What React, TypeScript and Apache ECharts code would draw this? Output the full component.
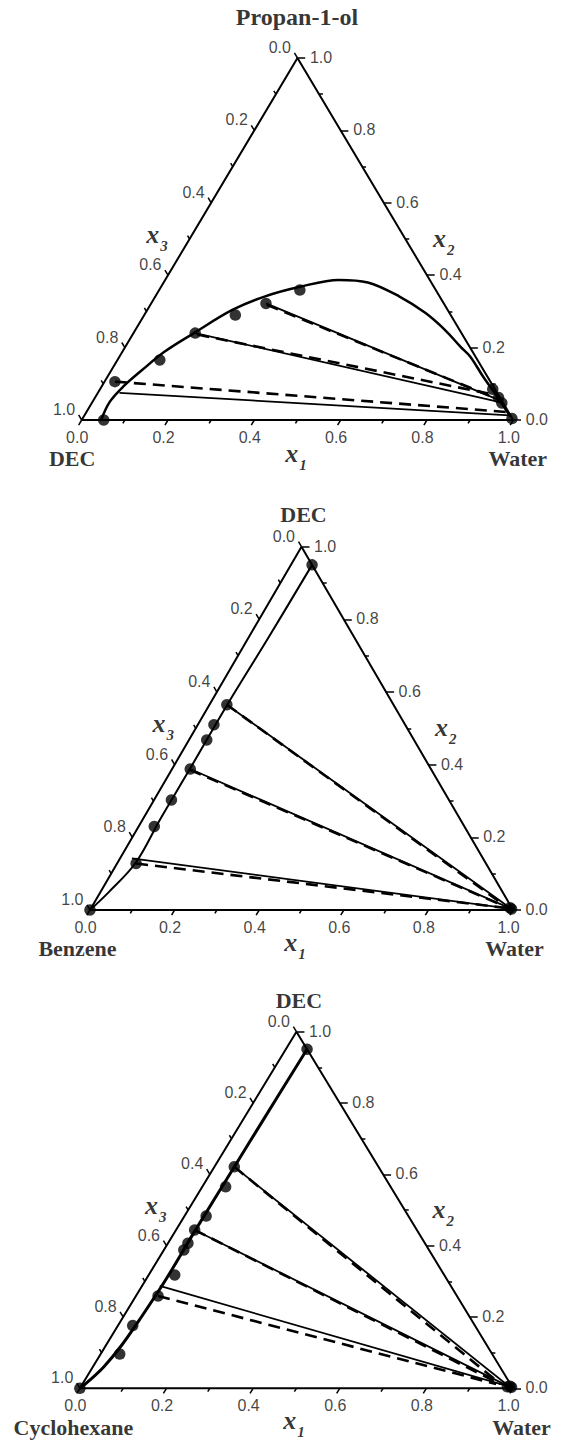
import React, { useEffect, useRef } from "react";
import * as echarts from "echarts";

type P2 = [number, number];

// ---------- shared ternary ticks ----------
const majorTicks = [0, 0.2, 0.4, 0.6, 0.8, 1.0];
const minorTicks = [0.1, 0.3, 0.5, 0.7, 0.9];
const tickLabels = ["0.0", "0.2", "0.4", "0.6", "0.8", "1.0"];

// all compositions are [x1 (Water), x2 (top component)], x3 = 1 - x1 - x2

// ---------- Panel 1: DEC + Water + Propan-1-ol ----------
const p1Names = { top: "Propan-1-ol", left: "DEC", right: "Water" };
const p1Binodal: P2[] = [
  [0.045, 0.0], [0.04, 0.05], [0.05, 0.092], [0.071, 0.138], [0.098, 0.189],
  [0.14, 0.24], [0.197, 0.304], [0.253, 0.341], [0.322, 0.368], [0.402, 0.387],
  [0.473, 0.38], [0.566, 0.341], [0.648, 0.296], [0.717, 0.249], [0.777, 0.202],
  [0.813, 0.175], [0.87, 0.12], [0.93, 0.065], [0.99, 0.008],
];
const p1Points: P2[] = [
  [0.051, 0.0], [0.024, 0.106], [0.098, 0.166], [0.143, 0.24], [0.211, 0.29],
  [0.266, 0.322], [0.326, 0.359], [0.91, 0.085], [0.935, 0.062], [0.95, 0.047],
  [0.995, 0.004],
];
const p1TieExp: P2[][] = [
  [[0.266, 0.322], [0.94, 0.055]],
  [[0.143, 0.24], [0.95, 0.048]],
  [[0.05, 0.075], [0.985, 0.013]],
];
const p1TieCalc: P2[][] = [
  [[0.27, 0.318], [0.935, 0.058]],
  [[0.15, 0.236], [0.93, 0.068]],
  [[0.024, 0.106], [0.975, 0.022]],
];

// ---------- Panel 2: Benzene + Water + DEC ----------
const p2Names = { top: "DEC", left: "Benzene", right: "Water" };
const p2Binodal: P2[] = [
  [0.05, 0.95], [0.047, 0.75], [0.042, 0.565], [0.042, 0.39], [0.041, 0.25],
  [0.043, 0.13], [0.02, 0.05], [0.0, 0.0],
];
const p2Points: P2[] = [
  [0.05, 0.95], [0.041, 0.565], [0.038, 0.51], [0.042, 0.468], [0.043, 0.388],
  [0.041, 0.303], [0.037, 0.23], [0.045, 0.128], [0.0, 0.0], [0.995, 0.003],
  [0.99, 0.006],
];
const p2TieExp: P2[][] = [
  [[0.041, 0.565], [0.995, 0.003]],
  [[0.043, 0.388], [0.995, 0.003]],
  [[0.028, 0.142], [0.995, 0.003]],
];
const p2TieCalc: P2[][] = [
  [[0.041, 0.565], [0.985, 0.006]],
  [[0.043, 0.386], [0.985, 0.006]],
  [[0.045, 0.128], [0.985, 0.005]],
];

// ---------- Panel 3: Cyclohexane + Water + DEC ----------
const p3Names = { top: "DEC", left: "Cyclohexane", right: "Water" };
const p3Binodal: P2[] = [
  [0.049, 0.951], [0.047, 0.75], [0.046, 0.62], [0.045, 0.44], [0.046, 0.3],
  [0.042, 0.2], [0.036, 0.12], [0.025, 0.06], [0.01, 0.02], [0.0, 0.0],
];
const p3Points: P2[] = [
  [0.049, 0.951], [0.046, 0.621], [0.054, 0.565], [0.05, 0.483], [0.043, 0.444],
  [0.046, 0.407], [0.046, 0.388], [0.06, 0.318], [0.051, 0.259], [0.034, 0.176],
  [0.044, 0.096], [0.0, 0.0], [0.995, 0.003], [0.985, 0.004], [0.99, 0.006],
];
const p3TieExp: P2[][] = [
  [[0.046, 0.621], [0.99, 0.004]],
  [[0.043, 0.444], [0.99, 0.004]],
  [[0.041, 0.287], [0.985, 0.006]],
];
const p3TieCalc: P2[][] = [
  [[0.046, 0.621], [0.965, 0.012]],
  [[0.043, 0.444], [0.962, 0.013]],
  [[0.051, 0.259], [0.955, 0.012]],
];

// ---------- layout (pixels) ----------
type Layout = {
  bx: number; by: number; W: number; ay: number;
  topSize: number; topOff: P2; leftOff: P2; rightOff: P2; x1Off: P2; binW: number;
};
const layouts: Layout[] = [
  { bx: 84, by: 420, W: 447, ay: 58, topSize: 24, topOff: [0, -41], leftOff: [-9, 39], rightOff: [5, 39], x1Off: [-1, 34], binW: 2.5 },
  { bx: 90, by: 910, W: 423, ay: 546.7, topSize: 22, topOff: [2.5, -32], leftOff: [-12, 39], rightOff: [2, 39], x1Off: [-6, 33], binW: 2 },
  { bx: 80, by: 1388.3, W: 434, ay: 1031.7, topSize: 22, topOff: [3, -31], leftOff: [-6, 40], rightOff: [9, 40], x1Off: [-2, 33], binW: 3 },
];

type PanelData = {
  names: { top: string; left: string; right: string };
  binodal: P2[]; points: P2[]; tieExp: P2[][]; tieCalc: P2[][];
};
const panels: PanelData[] = [
  { names: p1Names, binodal: p1Binodal, points: p1Points, tieExp: p1TieExp, tieCalc: p1TieCalc },
  { names: p2Names, binodal: p2Binodal, points: p2Points, tieExp: p2TieExp, tieCalc: p2TieCalc },
  { names: p3Names, binodal: p3Binodal, points: p3Points, tieExp: p3TieExp, tieCalc: p3TieCalc },
];

const SANS = "'Liberation Sans', Arial, Helvetica, sans-serif";
const SERIF = "'Liberation Serif', 'Times New Roman', Times, serif";

const T = (p: P2): P2 => [p[0] + p[1] / 2, p[1]];

function panelSeries(i: number, L: Layout, D: PanelData): any[] {
  const H = L.by - L.ay;
  const slant = Math.sqrt((L.W / 2) ** 2 + H * H);
  const ax = { xAxisIndex: i, yAxisIndex: i, silent: true };
  const tickSegs: P2[][] = [];
  const addTicks = (vals: number[], lb: number, lr: number, ll: number) => {
    vals.forEach((v) => {
      const db = lb / slant;
      tickSegs.push([T([v, 0]), T([v, -db])]);
      const dr = lr / L.W;
      tickSegs.push([T([1 - v, v]), T([1 - v + dr, v])]);
      const dl = ll / slant;
      tickSegs.push([T([0, 1 - v]), T([-dl, 1 - v + dl])]);
    });
  };
  addTicks(majorTicks, 6, 8, 6);
  addTicks(minorTicks, 4, 4, 4);

  const tickLabelStyle = { show: true, formatter: "{b}", fontSize: 16, lineHeight: 14, fontFamily: SANS, color: "#111" };
  const invisible = { symbol: "circle", symbolSize: 1, itemStyle: { color: "rgba(0,0,0,0)" } };
  const rich = {
    x: { fontFamily: SERIF, fontStyle: "italic", fontWeight: "bold", fontSize: 26, color: "#000", verticalAlign: "top", lineHeight: 26 },
    s: { fontFamily: SERIF, fontStyle: "italic", fontWeight: "bold", fontSize: 15, color: "#000", verticalAlign: "top", padding: [17, 0, 0, 1], lineHeight: 13 },
  };

  return [
    {
      type: "line", ...ax, name: `frame${i}`, clip: false, symbol: "none", z: 2,
      data: [T([0, 0]), T([1, 0]), T([0, 1]), T([0, 0])],
      lineStyle: { color: "#000", width: 2 },
    },
    {
      type: "lines", coordinateSystem: "cartesian2d", ...ax, z: 2,
      data: tickSegs.map((c) => ({ coords: c })),
      lineStyle: { color: "#000", width: 1.5, opacity: 1, curveness: 0 },
    },
    {
      type: "lines", coordinateSystem: "cartesian2d", ...ax, z: 3,
      data: D.tieExp.map((s) => ({ coords: s.map(T) })),
      lineStyle: { color: "#000", width: 1.8, opacity: 1, curveness: 0 },
    },
    {
      type: "lines", coordinateSystem: "cartesian2d", ...ax, z: 3,
      data: D.tieCalc.map((s) => ({ coords: s.map(T) })),
      lineStyle: { color: "#000", width: 2.6, opacity: 1, curveness: 0, type: [12, 7] },
    },
    {
      type: "line", ...ax, clip: false, symbol: "none", smooth: 0.35, z: 4,
      data: D.binodal.map(T),
      lineStyle: { color: "#000", width: L.binW },
    },
    {
      type: "scatter", ...ax, clip: false, z: 5, symbol: "circle", symbolSize: 11.5,
      data: D.points.map(T),
      itemStyle: { color: "#000" },
    },
    {
      type: "scatter", ...ax, clip: false, z: 6, ...invisible,
      data: majorTicks.map((v, k) => ({ name: tickLabels[k], value: T([v, 0]) })),
      label: { ...tickLabelStyle, position: [-4, 17.5], align: "center", verticalAlign: "middle" },
    },
    {
      type: "scatter", ...ax, clip: false, z: 6, ...invisible,
      data: majorTicks.map((v, k) => ({ name: tickLabels[k], value: T([1 - v, v]) })),
      label: { ...tickLabelStyle, position: [13, 0], align: "left", verticalAlign: "middle" },
    },
    {
      type: "scatter", ...ax, clip: false, z: 6, ...invisible,
      data: majorTicks.map((v, k) => ({ name: tickLabels[k], value: T([0, 1 - v]) })),
      label: { ...tickLabelStyle, position: [-6, -3], align: "right", verticalAlign: "bottom" },
    },
    {
      type: "scatter", ...ax, clip: false, z: 6, ...invisible,
      data: [
        { name: D.names.top, value: T([0, 1]), label: { position: L.topOff, fontSize: L.topSize, lineHeight: L.topSize } },
        { name: D.names.left, value: T([0, 0]), label: { position: L.leftOff } },
        { name: D.names.right, value: T([1, 0]), label: { position: L.rightOff } },
      ],
      label: {
        show: true, formatter: "{b}", fontFamily: SERIF, fontWeight: "bold", fontSize: 22, lineHeight: 19,
        color: "#000", align: "center", verticalAlign: "middle",
      },
    },
    {
      type: "scatter", ...ax, clip: false, z: 6, ...invisible,
      data: [
        { name: "{x|x}{s|1}", value: T([0.5, 0]), label: { position: L.x1Off } },
        { name: "{x|x}{s|2}", value: T([0.5, 0.5]), label: { position: [39, 0] } },
        { name: "{x|x}{s|3}", value: T([0, 0.5]), label: { position: [-32, -4] } },
      ],
      label: { show: true, formatter: (p: any) => p.name, align: "center", verticalAlign: "middle", rich },
    },
  ];
}

export default function App() {
  const ref = useRef<HTMLDivElement>(null);
  useEffect(() => {
    if (!ref.current) return;
    const chart = echarts.init(ref.current, undefined, { renderer: "svg" });
    const grids = layouts.map((L) => {
      const H = L.by - L.ay;
      return { left: L.bx - 0.15 * L.W, top: L.ay - 0.1 * H, width: 1.3 * L.W, height: 1.2 * H, containLabel: false };
    });
    const option: any = {
      animation: false,
      backgroundColor: "#fff",
      grid: grids,
      xAxis: layouts.map((_, i) => ({ type: "value", gridIndex: i, min: -0.15, max: 1.15, show: false })),
      yAxis: layouts.map((_, i) => ({ type: "value", gridIndex: i, min: -0.1, max: 1.1, show: false })),
      series: panels.flatMap((D, i) => panelSeries(i, layouts[i], D)),
    };
    chart.setOption(option);
    return () => chart.dispose();
  }, []);
  return (
    <div
      ref={ref}
      style={{ position: "absolute", left: 0, top: 0, width: 578, height: 1443, background: "#fff" }}
    />
  );
}
